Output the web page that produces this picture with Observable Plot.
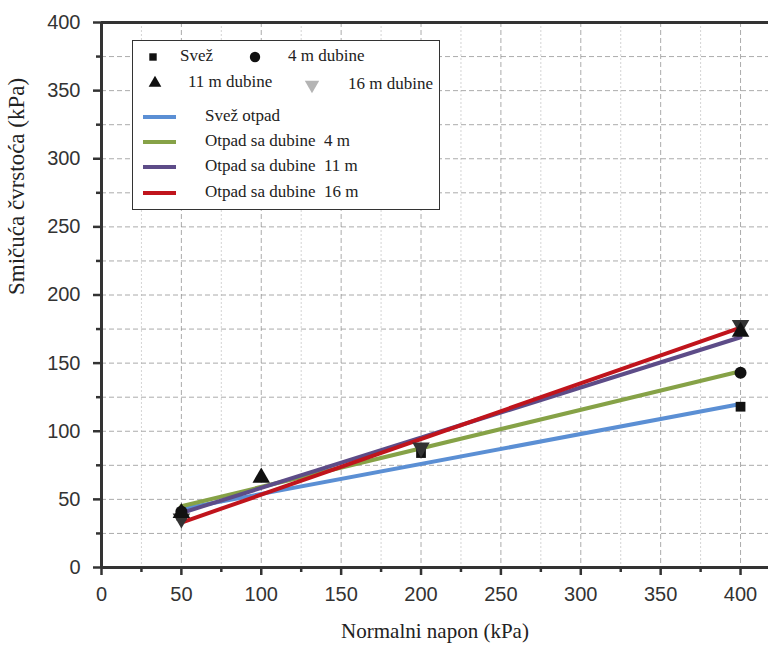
<!DOCTYPE html>
<html>
<head>
<meta charset="utf-8">
<script src="https://cdn.jsdelivr.net/npm/d3@7"></script>
<script src="https://cdn.jsdelivr.net/npm/@observablehq/plot@0.6"></script>
<style>
  html, body { margin: 0; padding: 0; background: #fff; }
  #wrap { position: relative; width: 768px; height: 650px; overflow: hidden; }
  #wrap svg text.serif-title { font-family: "Liberation Serif", "Times New Roman", serif !important; }
  #legend {
    position: absolute; left: 132px; top: 40px; width: 308px; height: 170px;
    border: 1px solid #333; background: #fff; box-sizing: border-box;
    font-family: "Liberation Serif", "Times New Roman", serif; font-size: 17px; color: #222;
  }
  #legend .it { position: absolute; white-space: nowrap; line-height: 20px; }
  #legend svg { position: absolute; overflow: visible; }
</style>
</head>
<body>
<div id="wrap"></div>
<script>
// ---- data ----
const xTicks = [0, 50, 100, 150, 200, 250, 300, 350, 400];
const xMinor = [25, 75, 125, 175, 225, 275, 325, 375];
const yTicks = [0, 50, 100, 150, 200, 250, 300, 350, 400];
const yMinor = [25, 75, 125, 175, 225, 275, 325, 375];
const xTitle = "Normalni napon (kPa)";
const yTitle = "Smičuća čvrstoća (kPa)";

// measured points
const svezX = [50, 200, 400];
const svezY = [38, 84, 118];
const d4X = [50, 400];
const d4Y = [41, 143];
const d11X = [50, 100, 400];
const d11Y = [40, 66, 173];
const d16X = [50, 200, 400];
const d16Y = [36, 88, 178];

// fitted lines (start / end)
const fitX = [50, 400];
const fitSvez = [43, 120];
const fit4 = [45, 144];
const fit11 = [40, 169];
const fit16 = [33, 176];

const seriesNames = ["Svež otpad", "Otpad sa dubine  4 m", "Otpad sa dubine  11 m", "Otpad sa dubine  16 m"];
const seriesColors = ["#5b8fd4", "#86a247", "#5d4c88", "#c0141c"];

// ---- build tables ----
const toPts = (xs, ys) => xs.map((x, i) => ({x, y: ys[i]}));
const fits = [fitSvez, fit4, fit11, fit16];
const fitRows = fits.flatMap((f, k) => fitX.map((x, i) => ({x, y: f[i], s: seriesNames[k]})));

const serif = "Liberation Serif";

const chart = Plot.plot({
  width: 768,
  height: 650,
  marginLeft: 101,
  marginRight: 0,
  marginTop: 22,
  marginBottom: 83,
  x: {domain: [0, 417.5]},
  y: {domain: [0, 400]},
  color: {domain: seriesNames, range: seriesColors},
  style: {fontFamily: "'Liberation Sans', Arial, sans-serif", fontSize: "20px", color: "#333", background: "#fff"},
  marks: [
    // grid
    Plot.gridY(yTicks.concat(yMinor), {stroke: "#888", strokeOpacity: 0.7, strokeDasharray: "5,3"}),
    Plot.gridX(xTicks.slice(1), {stroke: "#888", strokeOpacity: 0.7, strokeDasharray: "5,3"}),
    Plot.gridX(xMinor, {stroke: "#aaa", strokeOpacity: 0.5, strokeDasharray: "2,2"}),
    // axes: ticks and tick labels
    Plot.axisX(xTicks, {tickSize: 8, tickPadding: 11, strokeWidth: 2.5, label: null}),
    Plot.axisX(xMinor, {tickSize: 5, strokeWidth: 2.5, text: null, label: null}),
    Plot.axisY(yTicks, {tickSize: 8, tickPadding: 13, strokeWidth: 2.5, label: null}),
    Plot.axisY(yMinor, {tickSize: 5, strokeWidth: 2.5, text: null, label: null}),
    // axis titles (serif)
    Plot.text([xTitle], {frameAnchor: "bottom", dy: 70, fontFamily: serif, fontSize: 21, fill: "#222"}),
    Plot.text([yTitle], {frameAnchor: "left", dx: -85, rotate: -90, fontFamily: serif, fontSize: 23, fill: "#222"}),
    Plot.ruleX([0], {strokeWidth: 3}),
    Plot.ruleY([0], {strokeWidth: 3}),
    Plot.ruleY([400], {strokeWidth: 3}),
    // fitted lines
    Plot.line(fitRows, {x: "x", y: "y", z: "s", stroke: "s", strokeWidth: 4}),
    // measured points
    Plot.dot(toPts(svezX, svezY), {x: "x", y: "y", symbol: "square", r: 5.5, fill: "#111"}),
    Plot.dot(toPts(d4X, d4Y), {x: "x", y: "y", symbol: "circle", r: 6, fill: "#111"}),
    Plot.dot(toPts(d16X, d16Y), {x: "x", y: "y", symbol: "triangle", rotate: 180, r: 6.5, fill: "#333"}),
    Plot.dot(toPts(d11X, d11Y), {x: "x", y: "y", symbol: "triangle", r: 6.5, fill: "#111"})
  ]
});
// make sure both axis titles use the serif face
d3.select(chart).selectAll("text")
  .filter(function () { return this.textContent === xTitle || this.textContent === yTitle; })
  .classed("serif-title", true)
  .style("font-family", "'Liberation Serif', serif");

const wrap = document.getElementById("wrap");
wrap.appendChild(chart);

// ---- legend (inside the plot area) ----
const legend = document.createElement("div");
legend.id = "legend";
const sym = (type, size, color, rot) => {
  const p = d3.symbol(type, size)();
  return `<svg width="1" height="1" style="left:0;top:0"><path d="${p}" fill="${color}" transform="rotate(${rot || 0})"/></svg>`;
};
const markerItems = [
  {label: "Svež", type: d3.symbolSquare, size: 55, color: "#111", rot: 0, sx: 20, sy: 16, tx: 47},
  {label: "4 m dubine", type: d3.symbolCircle, size: 85, color: "#111", rot: 0, sx: 122, sy: 16, tx: 155},
  {label: "11 m dubine", type: d3.symbolTriangle, size: 70, color: "#111", rot: 0, sx: 22, sy: 42, tx: 55},
  {label: "16 m dubine", type: d3.symbolTriangle, size: 90, color: "#b4b4b4", rot: 180, sx: 179, sy: 44, tx: 215}
];
let html = "";
for (const m of markerItems) {
  html += `<div class="it" style="left:${m.sx}px;top:${m.sy}px">${sym(m.type, m.size, m.color, m.rot)}</div>`;
  html += `<div class="it" style="left:${m.tx}px;top:${m.sy - 11}px">${m.label}</div>`;
}
const lineRowY = [76, 101, 126, 152];
seriesNames.forEach((n, i) => {
  const y = lineRowY[i];
  html += `<div class="it" style="left:10px;top:${y - 2}px;width:33px;height:4px;background:${seriesColors[i]}"></div>`;
  html += `<div class="it" style="left:72px;top:${y - 11}px">${n.replace(/ {2}/g, "&nbsp; ")}</div>`;
});
legend.innerHTML = html;
wrap.appendChild(legend);
</script>
</body>
</html>
